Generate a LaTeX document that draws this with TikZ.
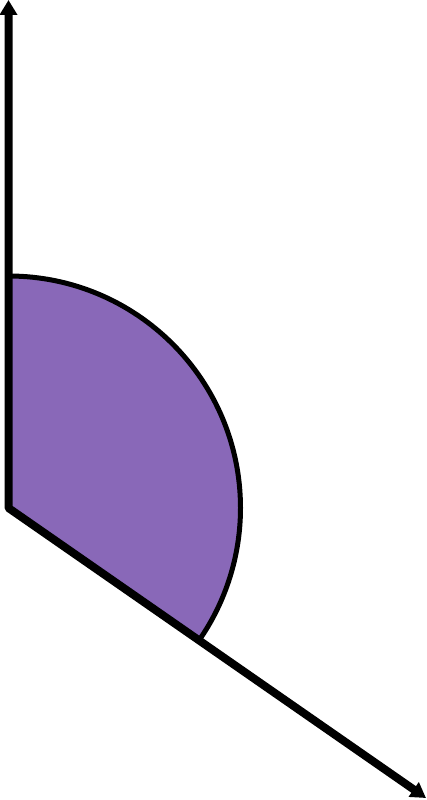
\documentclass[tikz,border=0pt]{standalone}
\usetikzlibrary{arrows.meta}
\definecolor{sectorpurple}{HTML}{8968B8}
\tikzset{
  rays/.style={line width=8pt,line join=bevel,{Triangle[length=15pt,width=17pt]}-{Triangle[length=15pt,width=17pt]}},
}
\begin{document}
\begin{tikzpicture}[x=1pt,y=-1pt]
\useasboundingbox (0,0) rectangle (426,800);
\coordinate (V) at (8.5,508);
\coordinate (T) at (8.5,0);
\coordinate (E) at (426,798);
\coordinate (A) at (8.5,276);
\fill[sectorpurple] (V) -- (A) arc[start angle=-90,end angle=34.8,radius=232] -- cycle;
\draw[line width=5pt] (A) arc[start angle=-90,end angle=34.8,radius=232];
\draw[rays] (T) -- (V) -- (E);
\end{tikzpicture}
\end{document}
